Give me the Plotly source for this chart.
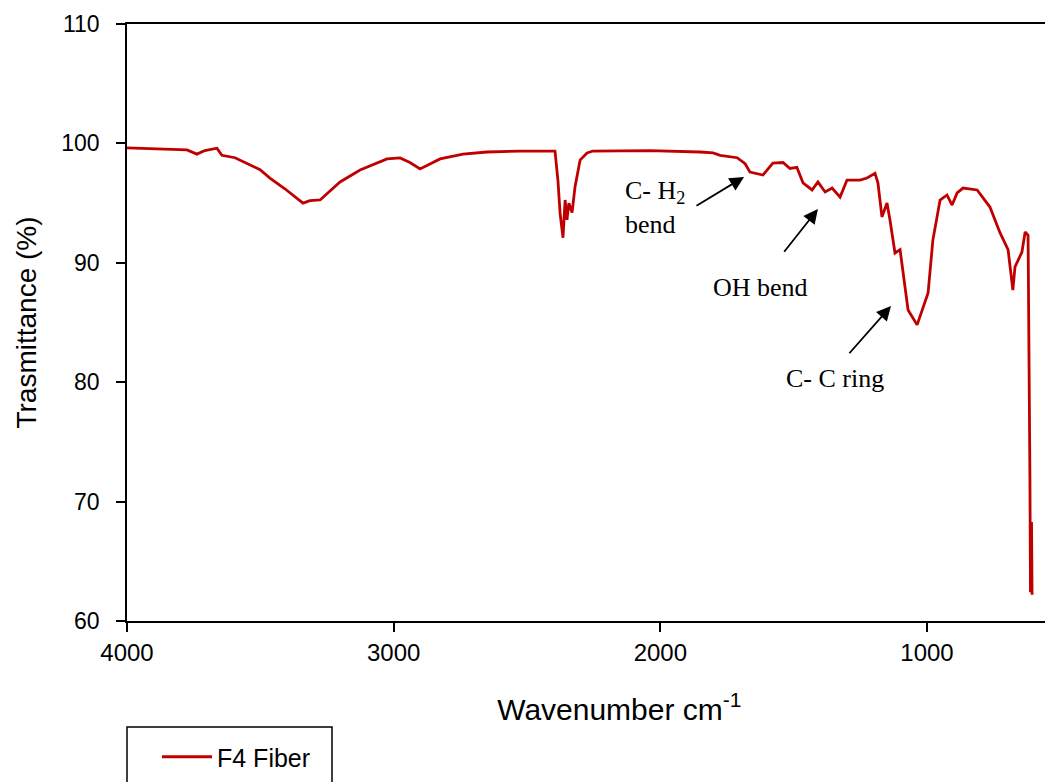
import plotly.graph_objects as go

wavenumber = [4000, 3914, 3839, 3775, 3738, 3708, 3663, 3644, 3595, 3550, 3501, 3464, 3408,
              3340, 3314, 3276, 3239, 3201, 3126, 3025, 2976, 2939, 2901, 2864, 2826, 2740,
              2650, 2526, 2395, 2384, 2376, 2365, 2357, 2350, 2343, 2331, 2320, 2301, 2275,
              2253, 2039, 1851, 1802, 1776, 1712, 1682, 1664, 1615, 1578, 1540, 1514, 1488,
              1465, 1431, 1409, 1382, 1356, 1326, 1300, 1251, 1225, 1195, 1184, 1169, 1150,
              1139, 1120, 1101, 1090, 1071, 1037, 1015, 996, 978, 951, 925, 906, 887, 865,
              812, 764, 726, 696, 678, 670, 644, 632, 621, 618, 614, 612, 608, 606]
transmittance = [99.62, 99.55, 99.45, 99.45, 99.1, 99.4, 99.6, 99.0, 98.8, 98.35, 97.8, 97.1, 96.2,
                 95.0, 95.2, 95.26, 96.0, 96.77, 97.77, 98.7, 98.78, 98.4, 97.86, 98.3, 98.7, 99.1,
                 99.28, 99.36, 99.36, 96.9, 94.17, 92.1, 95.26, 93.6, 95.0, 94.2, 96.35, 98.6, 99.2,
                 99.36, 99.4, 99.28, 99.2, 99.0, 98.8, 98.3, 97.6, 97.35, 98.35, 98.4, 97.9, 98.0,
                 96.7, 96.1, 96.77, 95.93, 96.26, 95.5, 96.93, 96.93, 97.1, 97.5, 96.7, 93.84, 95.0,
                 93.6, 90.82, 91.1, 89.15, 86.05, 84.8, 86.3, 87.47, 91.9, 95.26, 95.68, 94.84, 95.85, 96.26,
                 96.1, 94.67, 92.5, 91.1, 87.72, 89.65, 90.9, 92.58, 92.3, 86.0, 72.0, 62.4, 68.3, 62.2]

series_name = "F4 Fiber"
x_ticks = [4000, 3000, 2000, 1000]
y_ticks = [60, 70, 80, 90, 100, 110]

# annotation labels: (text, x, y, xanchor)
labels = [("C- H<sub>2</sub><br>bend", 2140, 94.67, "left"),
          ("OH bend", 1626, 87.97, "center"),
          ("C- C ring", 1345, 80.35, "center")]
# arrows: head (x, y) and tail (x, y)
arrows = [(1686, 97.19, 1870, 94.7),
          (1409, 94.5, 1540, 90.8),
          (1135, 86.38, 1296, 82.3)]

W, H = 1045, 782
L, R, T, B = 127, 0, 24, 161
pw, ph = W - L - R, H - T - B

fig = go.Figure()
fig.add_trace(go.Scatter(x=wavenumber, y=transmittance, mode="lines", name=series_name,
                         line=dict(color="#C00000", width=2.8), showlegend=True))

sans = "Liberation Sans, Arial, sans-serif"
serif = "Liberation Serif, Times New Roman, serif"

for text, x, y, xa in labels:
    fig.add_annotation(x=x, y=y, text=text, showarrow=False, xanchor=xa, yanchor="middle",
                       align="left", font=dict(family=serif, size=26, color="black"))
for x, y, tx, ty in arrows:
    fig.add_annotation(x=x, y=y, ax=tx, ay=ty, axref="x", ayref="y", text="",
                       showarrow=True, arrowhead=2,
                       arrowsize=1.6, arrowwidth=1.8, arrowcolor="black")

# legend box (extends below the page edge like the reference)
fig.add_shape(type="rect", xref="paper", yref="paper",
              x0=0, x1=(332 - L) / pw, y0=(T + ph - 800) / ph, y1=(T + ph - 727) / ph,
              line=dict(color="black", width=1.5), fillcolor="rgba(0,0,0,0)")

fig.update_layout(
    width=W, height=H, margin=dict(l=L, r=R, t=T, b=B, autoexpand=False),
    paper_bgcolor="white", plot_bgcolor="white",
    font=dict(family=sans, color="black"),
    showlegend=True,
    legend=dict(x=(157 - L) / pw, y=(T + ph - 757) / ph, xanchor="left", yanchor="middle",
                bgcolor="rgba(0,0,0,0)", borderwidth=0, itemwidth=50,
                font=dict(family=sans, size=25, color="black")),
    xaxis=dict(range=[4000, 4000 - pw * 3.75], tickmode="array", tickvals=x_ticks,
               ticktext=[str(v) for v in x_ticks],
               showline=True, linecolor="black", linewidth=1.5, mirror=True,
               ticks="outside", ticklen=9, tickwidth=1.5, tickcolor="black",
               showgrid=False, zeroline=False, tickfont=dict(family=sans, size=24),
               title=dict(text="&nbsp;" * 8 + "Wavenumber cm<sup>-1</sup>",
                          font=dict(family=sans, size=30), standoff=34)),
    yaxis=dict(range=[60, 110], tickmode="array", tickvals=y_ticks,
               showline=True, linecolor="black", linewidth=1.5, mirror=False,
               ticks="outside", ticklen=9, tickwidth=1.5, tickcolor="black",
               showgrid=False, zeroline=False, tickfont=dict(family=sans, size=23),
               ticklabelstandoff=12,
               title=dict(text="Trasmittance (%)", font=dict(family=sans, size=28),
                          standoff=16)),
)

fig.write_html("out.html")
